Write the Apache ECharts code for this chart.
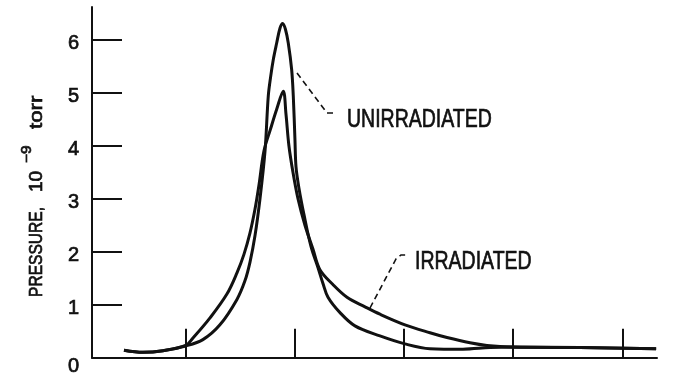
<!DOCTYPE html>
<html>
<head>
<meta charset="utf-8">
<script src="https://cdn.jsdelivr.net/npm/echarts@6/dist/echarts.min.js"></script>
<style>
html,body{margin:0;padding:0;background:#fff;}
#c{width:683px;height:377px;}
</style>
</head>
<body>
<div id="c"></div>
<script>
// x in tick units (ticks at 1..5), y in 10^-9 torr
const xTicks = [1, 2, 3, 4, 5];
const yTicks = [1, 2, 3, 4, 5, 6];
const yLabels = [0, 1, 2, 3, 4, 5, 6];

const unirrX = [0.435,0.609,0.792,1.0,1.158,1.314,1.47,1.543,1.589,1.635,
  1.681,1.727,1.757,1.779,1.803,1.834,1.864,1.889,1.914,1.94,1.971,1.986,
  2.001,2.011,2.038,2.084,2.148,2.212,2.258,2.304,2.414,2.551,
  2.78,3.009,3.238,3.54,3.788,4.0,4.613,5.31];
const unirrY = [0.14,0.10,0.13,0.22,0.34,0.62,1.1,1.45,1.8,2.3,
  3.0,3.9,4.94,5.31,5.63,5.94,6.22,6.31,6.2,5.94,5.44,4.94,
  4.13,3.6,3.2,2.7,2.1,1.7,1.4,1.14,0.85,0.6,
  0.41,0.26,0.17,0.16,0.19,0.2,0.19,0.17];

const irrX = [0.435,0.609,0.792,1.0,1.067,1.223,1.378,1.47,1.534,1.589,
  1.635,1.671,1.717,1.775,1.834,1.894,1.919,1.946,1.983,2.029,
  2.093,2.166,2.23,2.349,2.478,2.643,2.78,3.009,3.238,3.394,
  3.605,3.76,4.0,4.613,5.31];
const irrY = [0.14,0.10,0.13,0.23,0.37,0.75,1.2,1.6,1.95,2.35,
  2.8,3.25,3.9,4.3,4.69,5.03,4.6,4.0,3.5,3.0,
  2.5,2.05,1.66,1.38,1.14,0.96,0.82,0.62,0.47,0.38,
  0.28,0.23,0.2,0.19,0.17];

const zip = (xs, ys) => xs.map((x, i) => [x, ys[i]]);
const INK = '#111';
const FONT = 'Liberation Sans';
const txt = (text, size) => ({text: text, fontSize: size, fontFamily: FONT, fill: INK,
  stroke: INK, lineWidth: 0.7, align: 'left', verticalAlign: 'middle'});

const chart = echarts.init(document.getElementById('c'), null, {renderer: 'canvas'});
chart.setOption({
  animation: false,
  backgroundColor: '#fff',
  grid: {left: 92, right: 26, top: 7, bottom: 17},
  xAxis: {
    type: 'value', min: 0.142, max: 5.318,
    splitLine: {show: false},
    axisLine: {lineStyle: {color: INK, width: 2}},
    axisTick: {customValues: xTicks, inside: true, length: 29, lineStyle: {color: INK, width: 2}},
    axisLabel: {show: false}
  },
  yAxis: {
    type: 'value', min: 0, max: 6.62,
    splitLine: {show: false},
    axisLine: {show: true, lineStyle: {color: INK, width: 2}},
    axisTick: {customValues: yTicks, inside: true, length: 30, lineStyle: {color: INK, width: 2}},
    axisLabel: {
      customValues: yLabels, margin: 13, color: INK, fontSize: 20, fontFamily: FONT,
      formatter: v => v === 0 ? '{z|0}' : '{n|' + v + '}',
      rich: {
        z: {fontSize: 20, fontFamily: FONT, color: INK, textBorderColor: INK, textBorderWidth: 0.7, padding: [18, 0, 0, 0]},
        n: {fontSize: 20, fontFamily: FONT, color: INK, textBorderColor: INK, textBorderWidth: 0.7, padding: [8, 0, 0, 0]}
      }
    }
  },
  series: [
    {name: 'UNIRRADIATED', type: 'line', data: zip(unirrX, unirrY), showSymbol: false,
     smooth: 0.35, lineStyle: {color: INK, width: 3}},
    {name: 'IRRADIATED', type: 'line', data: zip(irrX, irrY), showSymbol: false,
     smooth: 0.35, lineStyle: {color: INK, width: 3}}
  ],
  graphic: [
    {type: 'polyline', shape: {points: [[297, 73], [327, 113], [337, 113]]},
     style: {stroke: INK, lineWidth: 1.6, lineDash: [6, 4], fill: null}},
    {type: 'text', x: 347, y: 120, scaleX: 0.78, style: txt('UNIRRADIATED', 25)},
    {type: 'polyline', shape: {points: [[370, 308], [396, 259], [401, 255], [409, 255]]},
     style: {stroke: INK, lineWidth: 1.6, lineDash: [6, 4], fill: null}},
    {type: 'text', x: 415, y: 262, scaleX: 0.78, style: txt('IRRADIATED', 25)},
    {type: 'text', x: 36.5, y: 297, rotation: Math.PI / 2, scaleX: 0.82, style: txt('PRESSURE,', 19)},
    {type: 'text', x: 36.5, y: 192, rotation: Math.PI / 2, style: txt('10', 19)},
    {type: 'text', x: 27.5, y: 163, rotation: Math.PI / 2, scaleX: 1.1, style: txt('\u22129', 14)},
    {type: 'text', x: 36.5, y: 129, rotation: Math.PI / 2, scaleX: 1.17, style: txt('torr', 19)}
  ]
});
</script>
</body>
</html>
